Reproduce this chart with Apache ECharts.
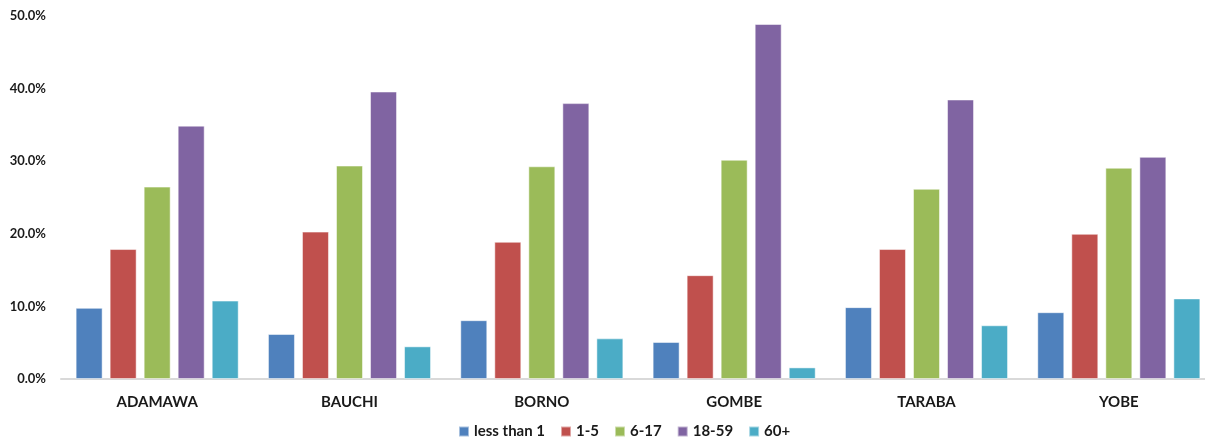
<!DOCTYPE html>
<html>
<head>
<meta charset="utf-8">
<script src="https://cdn.jsdelivr.net/npm/echarts@6/dist/echarts.min.js"></script>
<style>
html,body{margin:0;padding:0;background:#fff;overflow:hidden;}
#chart{width:1215px;height:441px;}
</style>
</head>
<body>
<div id="chart"></div>
<script>
const categories = ['ADAMAWA','BAUCHI','BORNO','GOMBE','TARABA','YOBE'];
const seriesNames = ['less than 1','1-5','6-17','18-59','60+'];
const lessThan1 = [9.8, 6.2, 8.1, 5.1, 9.9, 9.2];
const age1to5 = [17.9, 20.3, 18.9, 14.3, 17.9, 20.0];
const age6to17 = [26.5, 29.4, 29.3, 30.2, 26.2, 29.1];
const age18to59 = [34.9, 39.6, 38.0, 48.9, 38.5, 30.6];
const age60plus = [10.8, 4.5, 5.6, 1.6, 7.4, 11.1];
const colors = ['#4F81BD','#C0504D','#9BBB59','#8064A2','#4BACC6'];
const values = [lessThan1, age1to5, age6to17, age18to59, age60plus];

const chart = echarts.init(document.getElementById('chart'));
const font = 'Lato, "Open Sans", sans-serif';
chart.setOption({
  animation: false,
  color: colors,
  grid: {left: 61, right: 0, top: 16, bottom: 62, containLabel: false},
  legend: {
    data: seriesNames,
    left: 458, top: 424, padding: 0,
    itemWidth: 10, itemHeight: 10, itemGap: 15,
    icon: 'rect',
    textStyle: {fontFamily: font, fontWeight: 'bold', fontSize: 15, color: '#1a1a1a'}
  },
  xAxis: {
    type: 'category',
    data: categories,
    axisLine: {lineStyle: {color: '#d9d9d9', width: 2}},
    axisTick: {show: false},
    axisLabel: {fontFamily: font, fontWeight: 'bold', fontSize: 15, color: '#1a1a1a', margin: 16}
  },
  yAxis: {
    type: 'value', min: 0, max: 50, interval: 10,
    splitLine: {show: false},
    axisLine: {show: false},
    axisTick: {show: false},
    axisLabel: {fontFamily: font, fontWeight: 'bold', fontSize: 13, color: '#1a1a1a', margin: 15,
      formatter: v => v.toFixed(1) + '%'}
  },
  series: seriesNames.map((n, i) => ({
    name: n, type: 'bar', data: values[i],
    barWidth: 27, barGap: '26%',
    itemStyle: {color: colors[i], borderColor: 'rgba(255,255,255,0.5)', borderWidth: 1}
  }))
});
</script>
</body>
</html>
